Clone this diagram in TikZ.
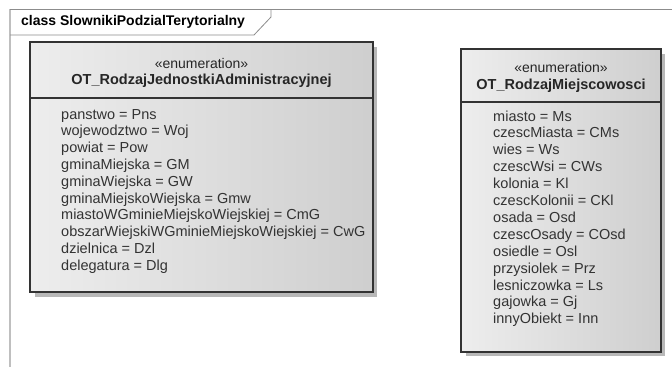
\documentclass[tikz,border=0pt]{standalone}
\usepackage{fontspec}
\setmainfont{Liberation Sans}

\tikzset{
  enumbox/.style={draw=black!80, line width=1.5pt, left color=black!7, right color=black!19},
  boxshadow/.style={fill=black!28, draw=none},
  frameline/.style={draw=black!45, line width=0.8pt},
  stereo/.style={inner sep=0pt, font=\fontsize{14}{16}\selectfont, text=black!85},
  enumname/.style={inner sep=0pt, font=\bfseries\fontsize{14.5}{16}\selectfont, text=black!85},
  attr/.style={anchor=base west, inner sep=0pt, font=\fontsize{14.5}{16}\selectfont, text=black!80}
}

\begin{document}
\begin{tikzpicture}[x=1pt, y=-1pt]
  \useasboundingbox[fill=white] (0,0) rectangle (672,367);

  % package frame
  \draw[draw=black!25, line width=2pt] (10,9) -- (10,367);
  \draw[frameline] (10,9) -- (672,9);
  \draw[frameline] (10,35) -- (254,35) -- (271,17) -- (271,9);
  \node[anchor=west, inner sep=0pt, font=\bfseries\fontsize{14}{16}\selectfont] (pkg) at (21,22) {class SlownikiPodzialTerytorialny};

  % left enumeration
  \fill[boxshadow] (35,47) rectangle (377,297);
  \draw[enumbox] (30,42) rectangle (373,292);
  \draw[draw=black!80, line width=1.2pt] (30,98) -- (373,98);
  \node[stereo] (lstereo) at (201.5,63) {«enumeration»};
  \node[enumname] (lname) at (201.5,81) {OT\_RodzajJednostkiAdministracyjnej};
  \foreach [count=\i] \t in {panstwo = Pns, wojewodztwo = Woj, powiat = Pow,
      gminaMiejska = GM, gminaWiejska = GW, gminaMiejskoWiejska = Gmw,
      miastoWGminieMiejskoWiejskiej = CmG, obszarWiejskiWGminieMiejskoWiejskiej = CwG,
      dzielnica = Dzl, delegatura = Dlg} {
    \node[attr] (l\i) at (61, 102.2+16.8*\i) {\t};
  }

  % right enumeration
  \fill[boxshadow] (466,54) rectangle (665,356);
  \draw[enumbox] (461,49) rectangle (661,352);
  \draw[draw=black!80, line width=1.2pt] (461,102) -- (661,102);
  \node[stereo] (rstereo) at (561,67) {«enumeration»};
  \node[enumname] (rname) at (561,86) {OT\_RodzajMiejscowosci};
  \foreach [count=\i] \t in {miasto = Ms, czescMiasta = CMs, wies = Ws, czescWsi = CWs,
      kolonia = Kl, czescKolonii = CKl, osada = Osd, czescOsady = COsd,
      osiedle = Osl, przysiolek = Prz, lesniczowka = Ls, gajowka = Gj, innyObiekt = Inn} {
    \node[attr] (r\i) at (493, 104.1+16.9*\i) {\t};
  }
\end{tikzpicture}
\end{document}
